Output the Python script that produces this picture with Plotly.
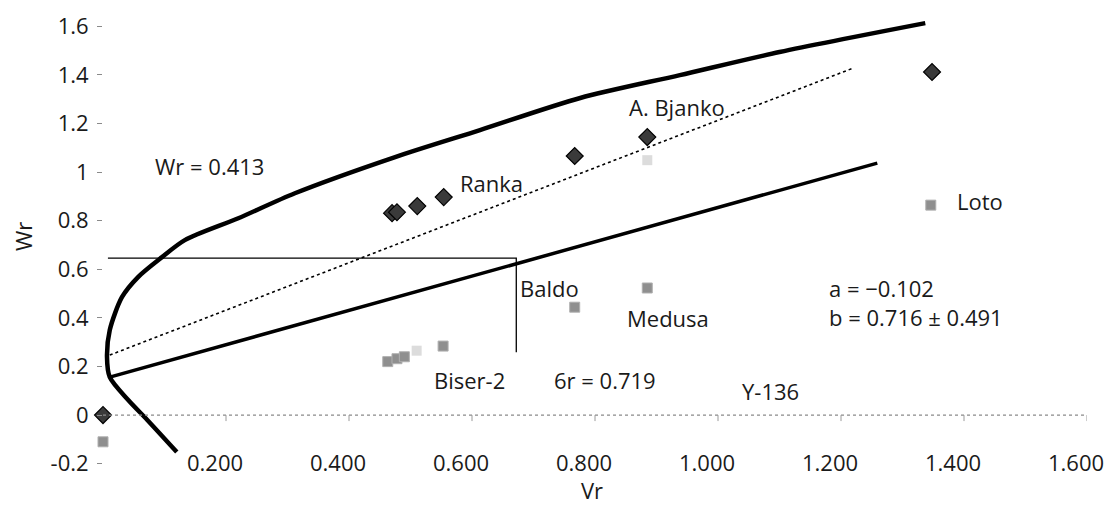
import plotly.graph_objects as go

# ---------------- data ----------------
# parents (dark diamonds): Vr, Wr
vr_parents = [0.0, 0.470, 0.478, 0.511, 0.554, 0.767, 0.885, 1.348]
wr_parents = [0.0, 0.831, 0.835, 0.860, 0.897, 1.066, 1.144, 1.412]

# second series (grey squares)
vr_sq = [0.0, 0.463, 0.478, 0.490, 0.553, 0.767, 0.885, 1.346]
wr_sq = [-0.11, 0.220, 0.232, 0.240, 0.284, 0.444, 0.523, 0.864]

# faint squares
vr_faint = [0.510, 0.885]
wr_faint = [0.265, 1.049]

# limiting parabola
parab_vr = [0.120, 0.072, 0.041, 0.011, 0.0065, 0.011, 0.031, 0.057, 0.096,
            0.133, 0.220, 0.312, 0.475, 0.613, 0.776, 0.938, 1.100, 1.337]
parab_wr = [-0.152, -0.020, 0.062, 0.156, 0.239, 0.350, 0.486, 0.568, 0.650,
            0.720, 0.810, 0.913, 1.062, 1.173, 1.305, 1.399, 1.494, 1.613]

# regression line (solid)
reg_vr = [0.011, 1.259]
reg_wr = [0.156, 1.037]

# unit-slope line (dotted)
dot_vr = [0.011, 1.220]
dot_wr = [0.247, 1.428]

# thin guide lines (horizontal then vertical)
guide_vr = [0.008, 0.672, 0.672]
guide_wr = [0.646, 0.646, 0.259]

x_ticks = [0.2, 0.4, 0.6, 0.8, 1.0, 1.2, 1.4, 1.6]
x_ticktext = ["0.200", "0.400", "0.600", "0.800", "1.000", "1.200", "1.400", "1.600"]
y_ticks = [1.6, 1.4, 1.2, 1.0, 0.8, 0.6, 0.4, 0.2, 0.0, -0.2]
y_ticktext = ["1.6", "1.4", "1.2", "1", "0.8", "0.6", "0.4", "0.2", "0", "-0.2"]

label_texts = ["Wr = 0.413", "Ranka", "A. Bjanko", "Baldo", "Medusa",
               "a = \u22120.102<br>b = 0.716 \u00b1 0.491", "Biser-2",
               "6r = 0.719", "Y-136", "Loto"]

# ---------------- layout config ----------------
label_pos = [(0.081, 1.025), (0.577, 0.955), (0.852, 1.267), (0.675, 0.523),
             (0.849, 0.398), (1.177, 0.463), (0.535, 0.145),
             (0.730, 0.145), (1.036, 0.100), (1.385, 0.880)]

FONT = "Open Sans"
FS = 22
INK = "#1a1a1a"

fig = go.Figure()

fig.add_trace(go.Scatter(x=parab_vr, y=parab_wr, mode="lines",
                         line=dict(color="black", width=4.5, shape="spline", smoothing=0.8),
                         hoverinfo="skip", showlegend=False))
fig.add_trace(go.Scatter(x=reg_vr, y=reg_wr, mode="lines",
                         line=dict(color="black", width=3.5),
                         hoverinfo="skip", showlegend=False))
fig.add_trace(go.Scatter(x=dot_vr, y=dot_wr, mode="lines",
                         line=dict(color="black", width=1.6, dash="dot"),
                         hoverinfo="skip", showlegend=False))
fig.add_trace(go.Scatter(x=guide_vr, y=guide_wr, mode="lines",
                         line=dict(color="black", width=1.3),
                         hoverinfo="skip", showlegend=False))

fig.add_trace(go.Scatter(x=vr_faint, y=wr_faint, mode="markers",
                         marker=dict(symbol="square", size=10, color="#dcdcdc"),
                         cliponaxis=False, showlegend=False))
fig.add_trace(go.Scatter(x=vr_sq, y=wr_sq, mode="markers",
                         marker=dict(symbol="square", size=10, color="#8f8f8f",
                                     line=dict(color="#b0b0b0", width=1)),
                         cliponaxis=False, showlegend=False))
fig.add_trace(go.Scatter(x=vr_parents, y=wr_parents, mode="markers",
                         marker=dict(symbol="diamond", size=13, color="#3a3a3a",
                                     line=dict(color="#000000", width=1.2)),
                         cliponaxis=False, showlegend=False))

# zero line (dotted, grey) with small ticks
shapes = [dict(type="line", xref="x", yref="y", x0=0, x1=1.6, y0=0, y1=0,
               line=dict(color="#8a8a8a", width=1.2, dash="dot"))]
for xv in x_ticks:
    shapes.append(dict(type="line", xref="x", yref="y", ysizemode="pixel", yanchor=0,
                       x0=xv, x1=xv, y0=0, y1=-6,
                       line=dict(color="#9a9a9a", width=1)))

annotations = []
for txt, (ax, ay) in zip(label_texts, label_pos):
    annotations.append(dict(x=ax, y=ay, xref="x", yref="y", text=txt, showarrow=False,
                            xanchor="left", yanchor="middle", align="left",
                            font=dict(family=FONT, size=FS, color=INK)))
# axis titles
annotations.append(dict(x=-0.0813, y=0.5065, xref="paper", yref="paper", text="Wr",
                        showarrow=False, textangle=-90, xanchor="center", yanchor="middle",
                        font=dict(family=FONT, size=FS, color=INK)))
annotations.append(dict(x=0.795, y=-0.043, xref="x", yref="paper", text="Vr",
                        showarrow=False, xanchor="center", yanchor="middle",
                        font=dict(family=FONT, size=FS, color=INK)))

fig.update_layout(
    width=1104, height=507,
    margin=dict(l=103, r=17, t=10, b=37, autoexpand=False),
    paper_bgcolor="white", plot_bgcolor="white",
    font=dict(family=FONT, size=FS, color=INK),
    shapes=shapes, annotations=annotations,
    hovermode=False,
    xaxis=dict(range=[0, 1.6], tickvals=x_ticks, ticktext=x_ticktext,
               showgrid=False, zeroline=False, showline=False, ticks="",
               anchor="free", position=0.048, automargin=False,
               ticklabelshift=-11, ticklabeloverflow="allow",
               tickfont=dict(family=FONT, size=FS, color=INK)),
    yaxis=dict(range=[-0.226, 1.667], tickvals=y_ticks, ticktext=y_ticktext,
               showgrid=False, zeroline=False, showline=False, automargin=False,
               ticks="outside", ticklen=5, tickcolor="#8a8a8a", tickwidth=1,
               ticklabelstandoff=4,
               tickfont=dict(family=FONT, size=FS, color=INK)),
)

fig.write_html("out.html", config={"displayModeBar": False, "staticPlot": True},
               post_script="document.body.style.margin='0';document.body.style.overflow='hidden';")
